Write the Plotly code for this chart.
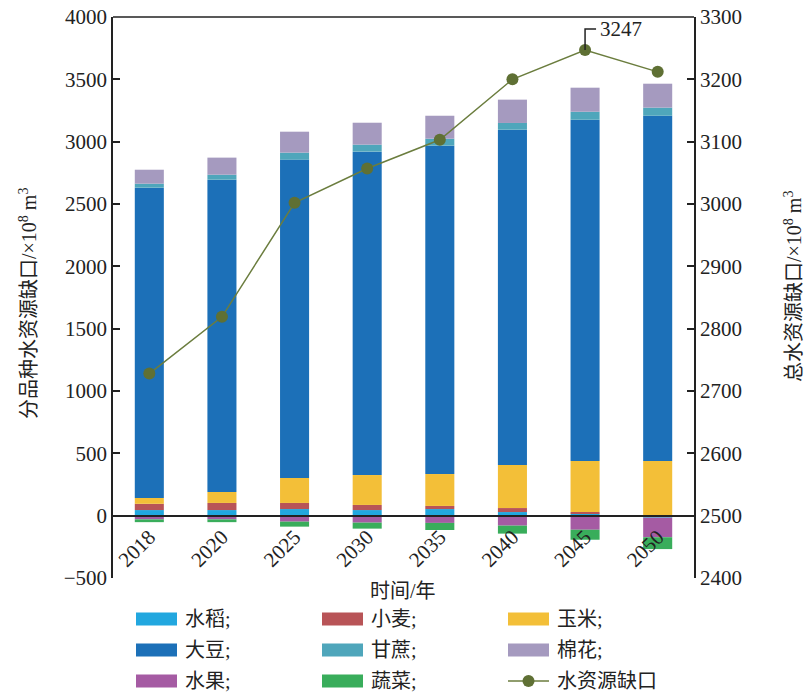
import plotly.graph_objects as go

# ---------------- data ----------------
years = ["2018", "2020", "2025", "2030", "2035", "2040", "2045", "2050"]
rice = [45, 45, 53, 45, 53, 29, 16, -16]
wheat = [50, 57, 49, 41, 25, 32, 13, 0]
corn = [47, 88, 200, 240, 256, 345, 410, 439]
soybean = [2489, 2505, 2554, 2594, 2634, 2690, 2737, 2769]
sugarcane = [32, 40, 56, 56, 56, 54, 64, 65]
cotton = [112, 137, 168, 176, 184, 187, 193, 192]
fruit = [-30, -30, -48, -56, -58, -80, -113, -157]
vegetable = [-22, -22, -40, -48, -57, -64, -80, -95]
total_gap = [2728, 2819, 3002, 3057, 3103, 3200, 3247, 3212]

series_names = ["水稻;", "小麦;", "玉米;", "大豆;", "甘蔗;", "棉花;", "水果;", "蔬菜;"]
line_name = "水资源缺口"
peak_label = "3247"

y1_range = [-500, 4000]
y2_range = [2400, 3300]

# ---------------- style ----------------
colors = ["#22a7df", "#b85457", "#f3bf38", "#1c70b8", "#4fa6bb", "#a59abf", "#a55ba3", "#39ad5b"]
line_color = "#6b7d3e"
marker_color = "#5f7034"
axis_color = "#222222"
FONT = "Liberation Serif, DejaVu Serif, Noto Sans CJK SC, serif"
W, H = 805, 695
L, R, T, B = 113, 111, 17, 117
PW, PH = W - L - R, H - T - B


def px_x(px):
    return (px - L) / PW


def px_y(py):
    return (H - B - py) / PH


pos = list(range(len(years)))  # category slots

fig = go.Figure()
all_series = [rice, wheat, corn, soybean, sugarcane, cotton, fruit, vegetable]
for name, vals, col in zip(series_names, all_series, colors):
    fig.add_trace(go.Bar(x=pos, y=vals, name=name, width=0.4,
                         marker=dict(color=col, line=dict(width=0)), showlegend=False))

fig.add_trace(go.Scatter(x=pos, y=total_gap, yaxis="y2", mode="lines+markers", name=line_name,
                         line=dict(color=line_color, width=1.5),
                         marker=dict(color=marker_color, size=12), showlegend=False))

tick_font = dict(family=FONT, size=21, color=axis_color)

fig.update_layout(
    width=W, height=H,
    margin=dict(l=L, r=R, t=T, b=B, pad=0),
    plot_bgcolor="white", paper_bgcolor="white",
    barmode="relative",
    font=dict(family=FONT, size=21, color=axis_color),
    xaxis=dict(type="linear", range=[-0.5, len(years) - 0.5], tickmode="array",
               tickvals=pos, ticktext=years,
               anchor="free", position=(0 - y1_range[0]) / (y1_range[1] - y1_range[0]),
               showline=True, automargin=False,
               linecolor=axis_color, linewidth=1.5, ticks="", tickangle=-45,
               tickfont=tick_font, showgrid=False, zeroline=False),
    yaxis=dict(range=y1_range, dtick=500, showline=True, linecolor=axis_color, linewidth=1.5,
               ticks="inside", ticklen=7, tickcolor=axis_color, tickwidth=1.5, automargin=False,
               showgrid=False, zeroline=False, tickfont=tick_font),
    yaxis2=dict(range=y2_range, dtick=100, overlaying="y", side="right", showline=True,
                linecolor=axis_color, linewidth=1.5, ticks="inside", ticklen=7, automargin=False,
                tickcolor=axis_color, tickwidth=1.5, showgrid=False, zeroline=False,
                tickfont=tick_font),
)

shapes = []
annotations = []
# top frame line
shapes.append(dict(type="line", xref="paper", yref="paper", x0=0, x1=1, y0=1, y1=1,
                   line=dict(color=axis_color, width=1.5)))

# peak callout (elbow leader from the peak point)
peak_i = total_gap.index(max(total_gap))
peak_v = total_gap[peak_i]
up_px, right_px = 21, 11
dy = up_px * (y2_range[1] - y2_range[0]) / PH
dx = right_px * len(years) / PW
shapes.append(dict(type="path", xref="x", yref="y2",
                   path=f"M {pos[peak_i]},{peak_v} L {pos[peak_i]},{peak_v + dy} L {pos[peak_i] + dx},{peak_v + dy}",
                   line=dict(color=axis_color, width=1.5)))
annotations.append(dict(x=pos[peak_i], y=peak_v, xref="x", yref="y2",
                        text=peak_label, showarrow=False, xanchor="left", yanchor="middle",
                        xshift=13, yshift=up_px, font=dict(family=FONT, size=21)))

# axis titles
annotations.append(dict(x=px_x(28), y=px_y(304), xref="paper", yref="paper",
                        xanchor="center", yanchor="middle",
                        text="分品种水资源缺口/×10<sup>8</sup> m<sup>3</sup>", textangle=-90,
                        showarrow=False, font=dict(family=FONT, size=20)))
annotations.append(dict(x=px_x(793), y=px_y(287), xref="paper", yref="paper",
                        xanchor="center", yanchor="middle",
                        text="总水资源缺口/×10<sup>8</sup> m<sup>3</sup>", textangle=-90,
                        showarrow=False, font=dict(family=FONT, size=20)))
annotations.append(dict(x=px_x(403), y=px_y(591), xref="paper", yref="paper", text="时间/年",
                        xanchor="center", yanchor="middle",
                        showarrow=False, font=dict(family=FONT, size=20)))

# custom legend (3 columns)
col_x = [136, 322, 508]
row_y = [619, 650, 681]
sw_w, sw_h = 41, 13
items = list(zip(series_names, colors)) + [(line_name, None)]
for i, (name, col) in enumerate(items):
    cx = col_x[i % 3]
    cy = row_y[i // 3]
    if col is not None:
        shapes.append(dict(type="rect", xref="paper", yref="paper",
                           x0=px_x(cx), x1=px_x(cx + sw_w), y0=px_y(cy + sw_h / 2), y1=px_y(cy - sw_h / 2),
                           fillcolor=col, line=dict(width=0)))
    else:
        shapes.append(dict(type="line", xref="paper", yref="paper",
                           x0=px_x(cx), x1=px_x(cx + sw_w), y0=px_y(cy), y1=px_y(cy),
                           line=dict(color=line_color, width=1.5)))
        shapes.append(dict(type="circle", xref="paper", yref="paper",
                           x0=px_x(cx + sw_w / 2 - 6), x1=px_x(cx + sw_w / 2 + 6),
                           y0=px_y(cy + 6), y1=px_y(cy - 6),
                           fillcolor=marker_color, line=dict(width=0)))
    annotations.append(dict(x=px_x(cx + sw_w + 6), y=px_y(cy), xref="paper", yref="paper",
                            text=name, showarrow=False, xanchor="left", yanchor="middle",
                            font=dict(family=FONT, size=20)))

fig.update_layout(shapes=shapes, annotations=annotations)
fig.write_html("out.html", config={"displayModeBar": False},
               post_script="document.body.style.margin='0';")
